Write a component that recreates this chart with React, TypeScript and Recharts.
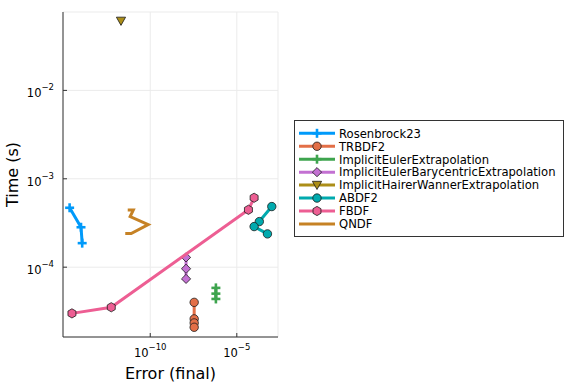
import { CartesianGrid, Label, Scatter, ScatterChart, XAxis, YAxis } from 'recharts';

// error / time values (log-log plot)
const rosenbrockErr = [2.2e-15, 1.0e-14, 1.17e-14];
const rosenbrockTime = [4.7e-4, 2.83e-4, 1.87e-4];

const trbdfErr = [3.45e-8, 3.45e-8, 3.45e-8, 3.45e-8];
const trbdfTime = [4.0e-5, 2.6e-5, 2.34e-5, 2.09e-5];

const ieeErr = [6.2e-7, 6.2e-7, 6.2e-7];
const ieeTime = [5.83e-5, 5.02e-5, 4.37e-5];

const iebeErr = [1.17e-8, 1.17e-8, 1.17e-8];
const iebeTime = [1.29e-4, 9.6e-5, 7.37e-5];

const ihwErr = [2.04e-12];
const ihwTime = [0.061];

const abdfErr = [1.05e-3, 2.0e-4, 1.0e-4, 5.9e-4];
const abdfTime = [4.85e-4, 3.28e-4, 2.88e-4, 2.38e-4];

const fbdfErr = [3.0e-15, 5.6e-13, 4.7e-5, 1.0e-4];
const fbdfTime = [3.0e-5, 3.52e-5, 4.46e-4, 6.1e-4];

const qndfErr = [5.0e-12, 1.05e-11, 6.9e-12, 7.6e-11, 7.9e-12, 3.6e-12];
const qndfTime = [4.43e-4, 4.43e-4, 3.74e-4, 3.03e-4, 2.4e-4, 2.4e-4];

const xTicks = [1e-10, 1e-5];
const yTicks = [1e-4, 1e-3, 1e-2];

const font = '"DejaVu Sans", sans-serif';

const pts = (xs: number[], ys: number[]) => xs.map((x, i) => ({ x, y: ys[i] }));

type Marker = 'cross' | 'circle' | 'diamond' | 'dtriangle' | 'hexagon' | 'none';

const series: { name: string; color: string; marker: Marker; data: { x: number; y: number }[] }[] = [
  { name: 'Rosenbrock23', color: '#009AFA', marker: 'cross', data: pts(rosenbrockErr, rosenbrockTime) },
  { name: 'TRBDF2', color: '#E36F47', marker: 'circle', data: pts(trbdfErr, trbdfTime) },
  { name: 'ImplicitEulerExtrapolation', color: '#3EA44E', marker: 'cross', data: pts(ieeErr, ieeTime) },
  { name: 'ImplicitEulerBarycentricExtrapolation', color: '#C371D2', marker: 'diamond', data: pts(iebeErr, iebeTime) },
  { name: 'ImplicitHairerWannerExtrapolation', color: '#AC8E18', marker: 'dtriangle', data: pts(ihwErr, ihwTime) },
  { name: 'ABDF2', color: '#00AAAE', marker: 'circle', data: pts(abdfErr, abdfTime) },
  { name: 'FBDF', color: '#ED5E93', marker: 'hexagon', data: pts(fbdfErr, fbdfTime) },
  { name: 'QNDF', color: '#C68225', marker: 'none', data: pts(qndfErr, qndfTime) },
];

function MarkerGlyph({ kind, cx, cy, color }: { kind: Marker; cx: number; cy: number; color: string }) {
  const sw = 0.8;
  const st = '#1a1a1a';
  if (kind === 'circle') return <circle cx={cx} cy={cy} r={4.2} fill={color} stroke={st} strokeWidth={sw} />;
  if (kind === 'diamond') {
    const r = 4.6;
    return <polygon points={`${cx},${cy - r} ${cx + r},${cy} ${cx},${cy + r} ${cx - r},${cy}`} fill={color} stroke={st} strokeWidth={sw} />;
  }
  if (kind === 'dtriangle') {
    return <polygon points={`${cx - 4.6},${cy - 3.8} ${cx + 4.6},${cy - 3.8} ${cx},${cy + 4.4}`} fill={color} stroke={st} strokeWidth={sw} />;
  }
  if (kind === 'hexagon') {
    const r = 4.6;
    const p = [0, 1, 2, 3, 4, 5]
      .map((i) => {
        const a = (Math.PI / 3) * i + Math.PI / 6;
        return `${cx + r * Math.cos(a)},${cy + r * Math.sin(a)}`;
      })
      .join(' ');
    return <polygon points={p} fill={color} stroke={st} strokeWidth={sw} />;
  }
  if (kind === 'cross') {
    return (
      <g stroke={color} strokeWidth={2.6}>
        <line x1={cx - 4.5} y1={cy} x2={cx + 4.5} y2={cy} />
        <line x1={cx} y1={cy - 4.5} x2={cx} y2={cy + 4.5} />
      </g>
    );
  }
  return <g />;
}

function XTick({ x, y, payload }: any) {
  const exp = Math.round(Math.log10(payload.value));
  return (
    <g>
      <line x1={x} y1={y} x2={x} y2={y - 4} stroke="#333" />
      <text x={x} y={y + 20} textAnchor="middle" fontFamily={font} fontSize={11.5} fill="#000">
        <tspan>10</tspan>
        <tspan dy={-7} fontSize={8.5}>{`\u2212${-exp}`}</tspan>
      </text>
    </g>
  );
}

function YTick({ x, y, payload }: any) {
  const exp = Math.round(Math.log10(payload.value));
  return (
    <g>
      <line x1={x} y1={y} x2={x + 4} y2={y} stroke="#333" />
      <text x={x - 9} y={y + 7} textAnchor="end" fontFamily={font} fontSize={11.5} fill="#000">
        <tspan>10</tspan>
        <tspan dy={-7} fontSize={8.5}>{`\u2212${-exp}`}</tspan>
      </text>
    </g>
  );
}

function LegendBox() {
  return (
    <svg width={272} height={120} style={{ position: 'absolute', left: 294, top: 120 }}>
      <rect x={0.5} y={0.5} width={269} height={116} fill="#fff" stroke="#333" strokeWidth={1} />
      {series.map((s, i) => {
        const cy = 13.3 + i * 12.95;
        return (
          <g key={s.name}>
            <line x1={5} y1={cy} x2={41} y2={cy} stroke={s.color} strokeWidth={3} />
            <MarkerGlyph kind={s.marker} cx={23} cy={cy} color={s.color} />
            <text x={45} y={cy + 4.3} fontFamily={font} fontSize={11.6} fill="#000">
              {s.name}
            </text>
          </g>
        );
      })}
    </svg>
  );
}

export default function App() {
  return (
    <div style={{ position: 'relative', width: 576, height: 384, background: '#fff' }}>
      <style>{'body{margin:0}'}</style>
      <ScatterChart width={576} height={384} margin={{ top: 12, right: 298, bottom: 0, left: 0 }}>
        <CartesianGrid stroke="#ebebeb" strokeWidth={1} />
        <XAxis
          type="number"
          dataKey="x"
          scale="log"
          domain={[Math.pow(10, -15.04), Math.pow(10, -2.62)]}
          allowDataOverflow
          ticks={xTicks}
          tick={<XTick />}
          tickSize={0}
          tickMargin={0}
          height={47}
          stroke="#333"
        >
          <Label value="Error (final)" position="insideBottom" offset={5} fontFamily={font} fontSize={16} fill="#000" />
        </XAxis>
        <YAxis
          type="number"
          dataKey="y"
          scale="log"
          domain={[Math.pow(10, -4.79), Math.pow(10, -1.113)]}
          allowDataOverflow
          ticks={yTicks}
          tick={<YTick />}
          tickSize={0}
          tickMargin={0}
          width={63}
          stroke="#333"
        >
          <Label
            value="Time (s)"
            angle={-90}
            position="insideLeft"
            offset={12}
            fontFamily={font}
            fontSize={16}
            fill="#000"
            style={{ textAnchor: 'middle' }}
          />
        </YAxis>
        {series.map((s) => (
          <Scatter
            key={s.name}
            name={s.name}
            data={s.data}
            fill={s.color}
            line={{ strokeWidth: 3, stroke: s.color }}
            isAnimationActive={false}
            shape={(p: any) => <MarkerGlyph kind={s.marker} cx={p.cx} cy={p.cy} color={s.color} />}
          />
        ))}
      </ScatterChart>
      <LegendBox />
    </div>
  );
}
